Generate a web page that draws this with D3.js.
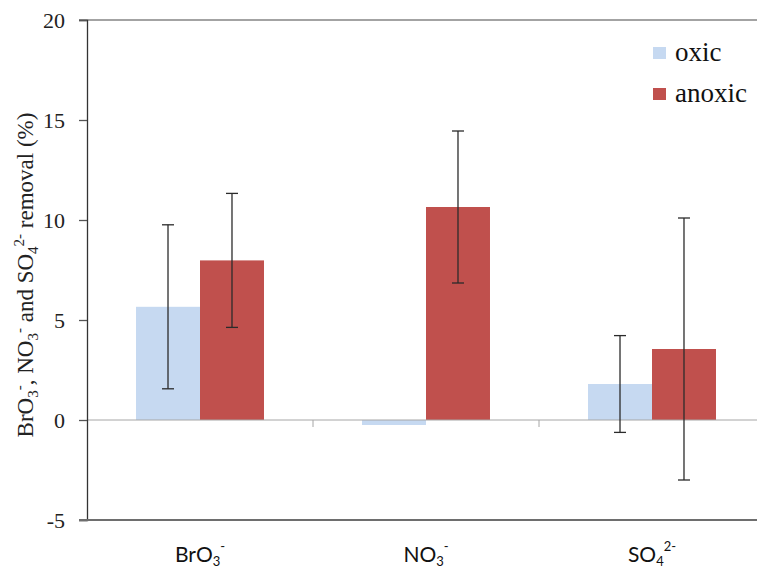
<!DOCTYPE html>
<html><head><meta charset="utf-8">
<script src="https://cdn.jsdelivr.net/npm/d3@7"></script>
<style>
body{margin:0;background:#fff}svg{display:block}
</style>
</head><body>
<script>
const categories = ["BrO3", "NO3", "SO4"];
const series = ["oxic", "anoxic"];
const oxicValues = [5.66, -0.25, 1.8];
const anoxicValues = [7.98, 10.65, 3.55];
const oxicErrors = [4.1, 0, 2.42];
const anoxicErrors = [3.35, 3.8, 6.55];
const yTicks = [-5, 0, 5, 10, 15, 20];
const colors = {oxic: "#c6d9f1", anoxic: "#c0504d"};

(function () {
const SERIF = "'Liberation Serif', 'Times New Roman', serif";
const SANS = "Lato, 'Liberation Sans', sans-serif";
const W = 757, H = 570;
const svg = d3.select("body").append("svg").attr("width", W).attr("height", H);
const pLeft = 87, pRight = 765, pTop = 20, pBottom = 520;

const x = d3.scaleBand().domain(categories).range([pLeft, pRight]).paddingInner(0).paddingOuter(0);
const xs = d3.scaleBand().domain(series).range([0, x.bandwidth()]).paddingInner(0).paddingOuter(0.766);
const y = d3.scaleLinear().domain([-5, 20]).range([pBottom, pTop]);

// top border
svg.append("line").attr("x1", pLeft - 8).attr("x2", W).attr("y1", y(20)).attr("y2", y(20))
  .attr("stroke", "#858585").attr("stroke-width", 1.5);

const data = [];
categories.forEach((c, i) => {
  data.push({c, s: "oxic", v: oxicValues[i], e: oxicErrors[i]});
  data.push({c, s: "anoxic", v: anoxicValues[i], e: anoxicErrors[i]});
});

svg.selectAll("rect.bar").data(data).enter().append("rect").attr("class", "bar")
  .attr("x", d => x(d.c) + xs(d.s))
  .attr("width", xs.bandwidth())
  .attr("y", d => y(Math.max(0, d.v)))
  .attr("height", d => Math.abs(y(d.v) - y(0)))
  .attr("fill", d => colors[d.s]);

// zero line
svg.append("line").attr("x1", pLeft).attr("x2", W).attr("y1", y(0)).attr("y2", y(0))
  .attr("stroke", "#a6a6a6").attr("stroke-width", 1);
categories.slice(1).forEach(c => {
  svg.append("line").attr("x1", x(c)).attr("x2", x(c)).attr("y1", y(0)).attr("y2", y(0) + 7)
    .attr("stroke", "#a6a6a6").attr("stroke-width", 1);
});

// error bars
const eb = svg.selectAll("g.eb").data(data.filter(d => d.e > 0)).enter().append("g");
eb.append("line")
  .attr("x1", d => x(d.c) + xs(d.s) + xs.bandwidth() / 2)
  .attr("x2", d => x(d.c) + xs(d.s) + xs.bandwidth() / 2)
  .attr("y1", d => y(d.v + d.e)).attr("y2", d => y(d.v - d.e))
  .attr("stroke", "#2b2b2b").attr("stroke-width", 1.3);
[1, -1].forEach(sg => {
  eb.append("line")
    .attr("x1", d => x(d.c) + xs(d.s) + xs.bandwidth() / 2 - 6)
    .attr("x2", d => x(d.c) + xs(d.s) + xs.bandwidth() / 2 + 6)
    .attr("y1", d => y(d.v + sg * d.e)).attr("y2", d => y(d.v + sg * d.e))
    .attr("stroke", "#2b2b2b").attr("stroke-width", 1.3);
});

// y axis
const yAxis = d3.axisLeft(y).tickValues(yTicks).tickSize(8).tickPadding(14).tickFormat(d => String(d));
const yg = svg.append("g").attr("transform", `translate(${pLeft},0)`).call(yAxis);
yg.attr("font-family", SERIF).attr("font-size", 22);
yg.select(".domain").attr("stroke", "#333").attr("stroke-width", 1.3);
yg.selectAll(".tick line").attr("stroke", "#555").attr("stroke-width", 1.3);
yg.selectAll(".tick text").style("font-family", SERIF).style("font-size", "22px").attr("fill", "#222");

// bottom axis line
svg.append("line").attr("x1", pLeft - 8).attr("x2", W).attr("y1", y(-5)).attr("y2", y(-5))
  .attr("stroke", "#6e6e6e").attr("stroke-width", 2);

// x labels with sub/superscripts (superscript stacked above subscript)
const labelParts = {
  BrO3: ["BrO", "3", "-"],
  NO3: ["NO", "3", "-"],
  SO4: ["SO", "4", "2-"]
};
categories.forEach(c => {
  const p = labelParts[c];
  const g = svg.append("g");
  const t = g.append("text").attr("y", 562).style("font-family", SANS).style("font-size", "21px").attr("fill", "#111");
  t.append("tspan").text(p[0]);
  t.append("tspan").text(p[1]).style("font-size", "13px").attr("dy", 4);
  const w1 = t.node().getComputedTextLength();
  const sup = g.append("text").attr("x", w1).attr("y", 551)
    .style("font-family", SANS).style("font-size", "13px").attr("fill", "#111").text(p[2]);
  const supW = sup.node().getComputedTextLength();
  const total = w1 + supW;
  g.attr("transform", `translate(${x(c) + x.bandwidth() / 2 - total / 2},0)`);
});

// y title
const yt = svg.append("text").attr("transform", "translate(33,275) rotate(-90)")
  .attr("text-anchor", "middle").style("font-family", SERIF)
  .style("font-size", "23px").attr("fill", "#222");
const titleParts = [["BrO", 0], ["3", 1], ["-", -1], [", NO", 0], ["3", 1], ["-", -1], [" and SO", 0], ["4", 1], ["2-", -1], [" removal (%)", 0]];
let ps = 0;
titleParts.forEach(p => {
  const sp = yt.append("tspan").text(p[0]);
  let shift = 0;
  if (p[1] === 1) { sp.style("font-size", "15px"); shift = 5; }
  if (p[1] === -1) { sp.style("font-size", "15px"); shift = -9; }
  sp.attr("dy", shift - ps);
  ps = shift;
});

// legend
series.forEach((s, i) => {
  const yy = 47 + i * 41;
  svg.append("rect").attr("x", 653).attr("y", yy).attr("width", 13).attr("height", 12).attr("fill", colors[s]);
  svg.append("text").attr("x", 675).attr("y", yy + 14).text(s)
    .style("font-family", SERIF).style("font-size", "27px").attr("fill", "#111");
});
})();
</script>
</body></html>
